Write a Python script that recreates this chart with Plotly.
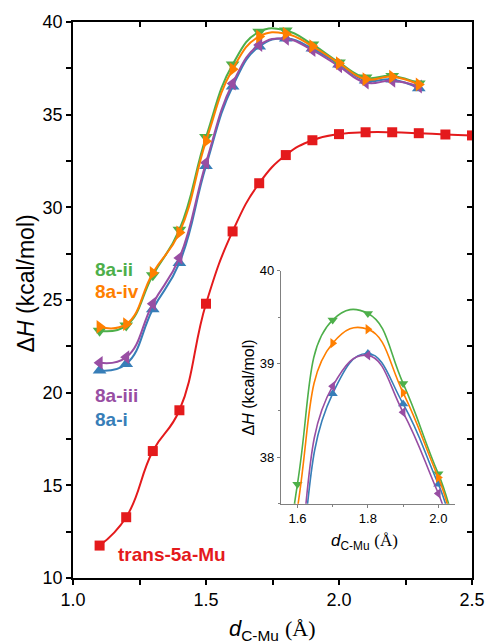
import plotly.graph_objects as go

# ---- data ----
d_trans = [1.1, 1.2, 1.3, 1.4, 1.5, 1.6, 1.7, 1.8, 1.9, 2.0, 2.1, 2.2, 2.3, 2.4, 2.5]
dH_trans = [11.75, 13.28, 16.85, 19.05, 24.8, 28.7, 31.3, 32.82, 33.62, 33.95, 34.05, 34.05, 34.0, 33.93, 33.88]

d_8a = [1.1, 1.2, 1.3, 1.4, 1.5, 1.6, 1.7, 1.8, 1.9, 2.0, 2.1, 2.2, 2.3]
dH_8a_i = [21.2, 21.55, 24.5, 27.0, 32.23, 36.52, 38.68, 39.11, 38.57, 37.71, 36.85, 36.9, 36.43]
dH_8a_ii = [23.34, 23.62, 26.34, 28.79, 33.79, 37.71, 39.47, 39.54, 38.79, 37.82, 37.0, 37.09, 36.68]
dH_8a_iii = [21.61, 21.91, 24.8, 27.27, 32.41, 36.68, 38.76, 39.09, 38.48, 37.61, 36.73, 36.83, 36.52]
dH_8a_iv = [23.55, 23.7, 26.46, 28.64, 33.57, 37.45, 39.22, 39.37, 38.69, 37.78, 36.91, 37.05, 36.63]

labels = ["8a-i", "8a-iii", "8a-ii", "8a-iv"]
series = [dH_8a_i, dH_8a_iii, dH_8a_ii, dH_8a_iv]
colors = ["#377eb8", "#984ea3", "#4daf4a", "#ff7f00"]
symbols = ["triangle-up", "triangle-left", "triangle-down", "triangle-right"]
red = "#e41a1c"

x_main_ticks = [1.0, 1.25, 1.5, 1.75, 2.0, 2.25, 2.5]
x_main_text = ["1.0", "", "1.5", "", "2.0", "", "2.5"]
y_main_ticks = [10, 12.5, 15, 17.5, 20, 22.5, 25, 27.5, 30, 32.5, 35, 37.5, 40]
y_main_text = ["10", "", "15", "", "20", "", "25", "", "30", "", "35", "", "40"]

FONT = "Arial, Liberation Sans, sans-serif"
SERIF = "Liberation Serif, Times New Roman, serif"

fig = go.Figure()

# main traces
for lab, ys, c, s in zip(labels, series, colors, symbols):
    fig.add_trace(go.Scatter(x=d_8a, y=ys, mode="lines+markers", name=lab,
                             line=dict(color=c, width=2, shape="spline", smoothing=1.3),
                             marker=dict(symbol=s, size=12, color=c),
                             xaxis="x", yaxis="y", showlegend=False))
fig.add_trace(go.Scatter(x=d_trans, y=dH_trans, mode="lines+markers", name="trans-5a-Mu",
                         line=dict(color=red, width=2, shape="spline", smoothing=1.3),
                         marker=dict(symbol="square", size=10, color=red),
                         xaxis="x", yaxis="y", showlegend=False))

# inset traces
for lab, ys, c, s in zip(labels, series, colors, symbols):
    fig.add_trace(go.Scatter(x=d_8a, y=ys, mode="lines+markers", name=lab,
                             line=dict(color=c, width=1.6, shape="spline", smoothing=1.3),
                             marker=dict(symbol=s, size=9, color=c),
                             xaxis="x2", yaxis="y2", showlegend=False))

# invisible trace for the mirrored (inward) ticks
fig.add_trace(go.Scatter(x=[1.0], y=[10], mode="markers", marker=dict(opacity=0),
                         xaxis="x3", yaxis="y3", showlegend=False, hoverinfo="skip"))

fig.update_layout(
    width=497, height=643,
    margin=dict(l=73, r=16, t=19, b=65),
    paper_bgcolor="white", plot_bgcolor="white",
    font=dict(family=FONT, color="black"),
    xaxis=dict(domain=[0, 1], range=[1.0, 2.5], tickvals=x_main_ticks, ticktext=x_main_text,
               ticks="outside", ticklen=5, tickwidth=1.5, tickcolor="black",
               showline=True, linecolor="black", linewidth=1.5, mirror=True,
               showgrid=False, zeroline=False, tickfont=dict(size=18)),
    yaxis=dict(domain=[0, 1], range=[10, 40], tickvals=y_main_ticks, ticktext=y_main_text,
               ticks="outside", ticklen=5, tickwidth=1.5, tickcolor="black",
               showline=True, linecolor="black", linewidth=1.5, mirror=True,
               showgrid=False, zeroline=False, tickfont=dict(size=18)),
    xaxis3=dict(overlaying="x", side="top", anchor="y3", range=[1.0, 2.5], tickvals=x_main_ticks,
                showticklabels=False, ticks="inside", ticklen=5, tickwidth=1.5, tickcolor="black",
                showline=False, showgrid=False, zeroline=False),
    yaxis3=dict(overlaying="y", side="right", anchor="x3", range=[10, 40], tickvals=y_main_ticks,
                showticklabels=False, ticks="inside", ticklen=5, tickwidth=1.5, tickcolor="black",
                showline=False, showgrid=False, zeroline=False),
    xaxis2=dict(domain=[0.521, 0.958], anchor="y2", range=[1.553, 2.048],
                tickvals=[1.6, 1.8, 2.0], ticktext=["1.6", "1.8", "2.0"],
                ticks="outside", ticklen=3, tickcolor="#808080", tickwidth=1,
                minor=dict(tickvals=[1.7, 1.9], ticks="outside", ticklen=2, tickcolor="#808080"),
                showline=True, linecolor="#808080", linewidth=1,
                showgrid=False, zeroline=False, tickfont=dict(size=13)),
    yaxis2=dict(domain=[0.1336, 0.553], anchor="x2", range=[37.5, 40],
                tickvals=[38, 39, 40], ticktext=["38", "39", "40"],
                ticks="outside", ticklen=3, tickcolor="#808080", tickwidth=1,
                minor=dict(tickvals=[37.5, 38.5, 39.5], ticks="outside", ticklen=2, tickcolor="#808080"),
                showline=True, linecolor="#808080", linewidth=1,
                showgrid=False, zeroline=False, tickfont=dict(size=13)),
)

ann = []
# axis titles
ann.append(dict(text="Δ<i>H</i> (kcal/mol)", xref="paper", yref="paper", x=-0.1176, y=0.53,
                textangle=-90, showarrow=False, font=dict(size=23), xanchor="center", yanchor="middle"))
ann.append(dict(text="<i>d</i><sub>C-Mu</sub> <span style='font-family:%s'>(Å)</span>" % SERIF,
                xref="paper", yref="paper", x=0.5, y=-0.094, showarrow=False, font=dict(size=22),
                xanchor="center", yanchor="middle"))
ann.append(dict(text="Δ<i>H</i> (kcal/mol)", xref="paper", yref="paper", x=0.441, y=0.3426,
                textangle=-90, showarrow=False, font=dict(size=16), xanchor="center", yanchor="middle"))
ann.append(dict(text="<i>d</i><sub>C-Mu</sub> <span style='font-family:%s'>(Å)</span>" % SERIF,
                xref="paper", yref="paper", x=0.730, y=0.0644, showarrow=False, font=dict(size=17),
                xanchor="center", yanchor="middle"))
# series labels
lab_pos = [("8a-ii", "#4daf4a", 0.049, 0.5546), ("8a-iv", "#ff7f00", 0.049, 0.5152),
           ("8a-iii", "#984ea3", 0.049, 0.3274), ("8a-i", "#377eb8", 0.049, 0.2844),
           ("trans-5a-Mu", red, 0.1078, 0.0429)]
for t, c, px, py in lab_pos:
    ann.append(dict(text="<b>%s</b>" % t, xref="paper", yref="paper", x=px, y=py, showarrow=False,
                    font=dict(size=19, color=c), xanchor="left", yanchor="middle"))
fig.update_layout(annotations=ann)

fig.write_html("out.html")
